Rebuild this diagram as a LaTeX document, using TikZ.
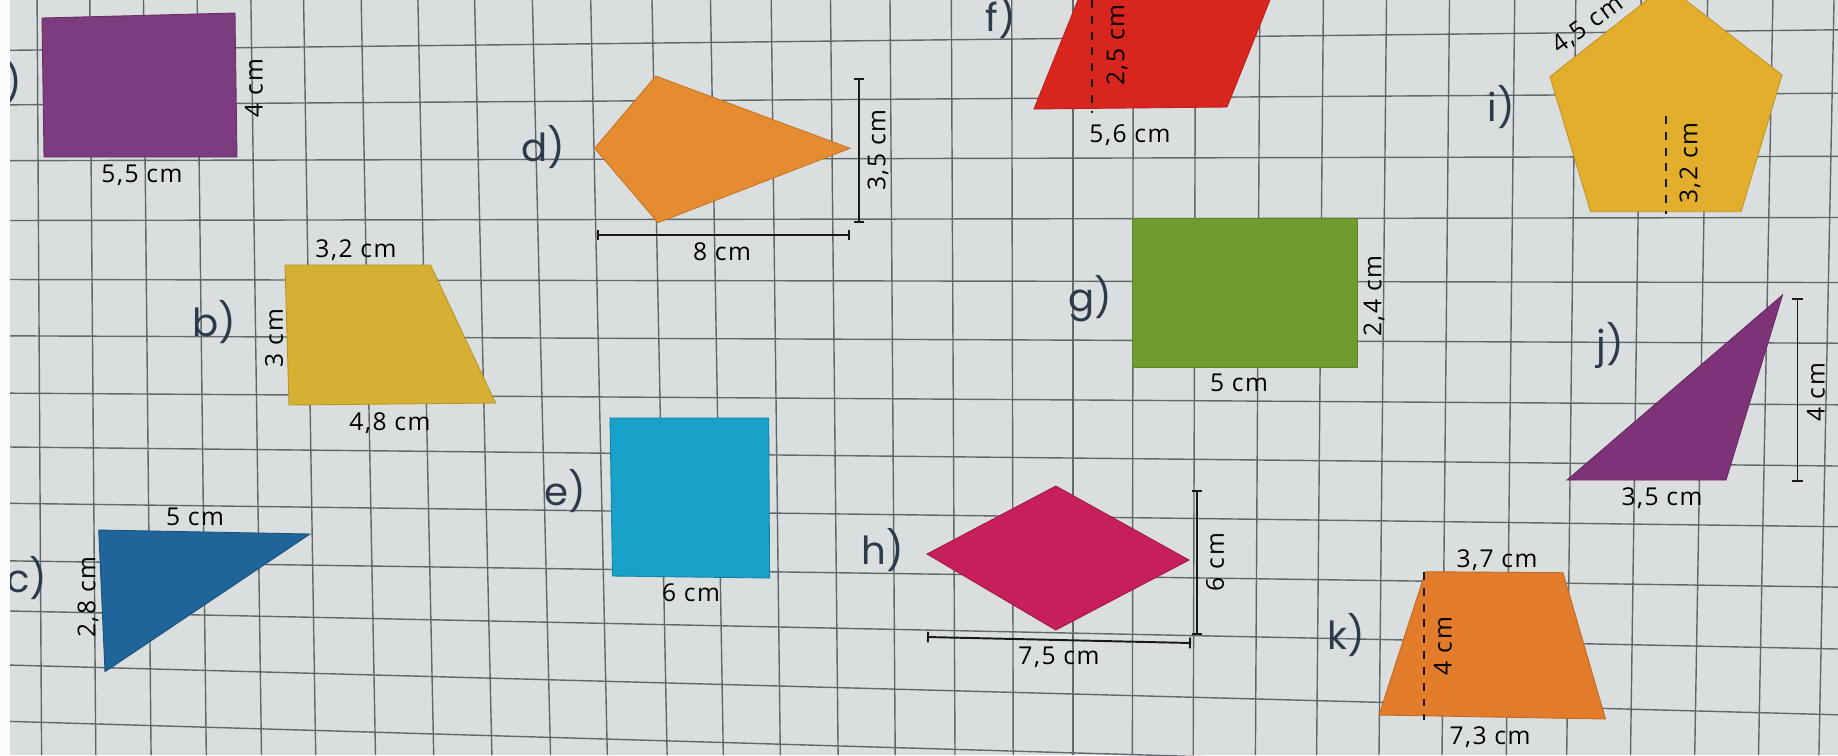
\documentclass[tikz,border=0pt]{standalone}
\usepackage{fontspec}
\newfontfamily\measfont[LetterSpace=6]{Open Sans}
\newfontfamily\handfont{Poppins}
\usetikzlibrary{arrows.meta}
\definecolor{paper}{HTML}{DADEDF}
\definecolor{gridc}{HTML}{62676B}
\definecolor{labc}{HTML}{2D3A4B}
\definecolor{cpurpleA}{HTML}{7D3C7E}
\definecolor{cyellowB}{HTML}{D6B032}
\definecolor{cblueC}{HTML}{20659A}
\definecolor{corangeD}{HTML}{E68C30}
\definecolor{ccyanE}{HTML}{18A2C9}
\definecolor{credF}{HTML}{D8261F}
\definecolor{cgreenG}{HTML}{6F9C2F}
\definecolor{cmagH}{HTML}{C71F5C}
\definecolor{cgoldI}{HTML}{E3AE2C}
\definecolor{cpurpleJ}{HTML}{7E3378}
\definecolor{corangeK}{HTML}{E27B2A}
\begin{document}
\begin{tikzpicture}[x=0.02cm,y=-0.02cm,
  gridline/.style={draw=gridc, line width=0.8pt},
  meas/.style={font=\measfont\fontsize{14}{16}\selectfont, text=black, inner sep=0pt},
  lab/.style={font=\handfont\fontsize{22}{24}\selectfont, text=labc, inner sep=0pt},
  figure/.style={line width=0.5pt},
  dimline/.style={line width=1.1pt, draw=black!90, {Bar[width=6pt]}-{Bar[width=6pt]}},
  hgt/.style={line width=1.1pt, draw=black!90, dash pattern=on 4.5pt off 4.5pt}]

\useasboundingbox (0,0) rectangle (1838,755);
\fill[paper] (0,0) rectangle (1838,755);

% grid: vertical lines
\foreach \a/\b in {37.1/41.6, 89.8/95.8, 143.5/151.1, 197.2/206.3, 250.9/261.5,
  303.6/315.7, 361.2/375.5, 417.9/433.7, 474.6/491.9, 532.4/550.5, 590.7/607.3,
  652/667.1, 710.5/723.3, 771.2/780.3, 830.5/838.1, 890/895.2, 951.3/955,
  1011.7/1013.2, 1073/1073, 1133.2/1132.4, 1195.5/1193.2, 1259.9/1255.4,
  1323.4/1316.6, 1386.5/1379, 1449.5/1442, 1514.7/1506.3, 1575.8/1566.7,
  1641.1/1630.5, 1707.6/1694.7, 1772.9/1758.5, 1834/1818.9}
  \draw[gridline] (\a,0) -- (\b,755);
% grid: horizontal lines
\foreach \a/\b in {50.4/29.8, 104.9/93.2, 160.7/156.3, 220.5/217.5, 279.5/282.5,
  335.8/343.2, 393.1/404.8, 446.9/466.0, 503.2/526.7, 560.7/587.1, 610.8/649.0,
  664.8/714.8, 721.1/775.5}
  \draw[gridline] (0,\a) -- (1838,\b);

% a) rectangle
\filldraw[figure, fill=cpurpleA, draw=cpurpleA!80!black] (42,18) -- (235,13) -- (237,157) -- (44,157) -- cycle;
\node[meas, rotate=90] (a4) at (254,88) {4 cm};
\node[meas] (a55) at (142,175) {5,5 cm};
\node[lab, anchor=east] (la) at (22,82) {a)};

% b) trapezoid
\filldraw[figure, fill=cyellowB, draw=cyellowB!85!black] (285,265) -- (430.5,265) -- (495.6,403) -- (289,405) -- cycle;
\node[meas] (b32) at (356,250) {3,2 cm};
\node[meas, rotate=90] (b3) at (274,338) {3 cm};
\node[meas] (b48) at (390,423) {4,8 cm};
\node[lab] (lb) at (214,322) {b)};

% c) triangle
\filldraw[figure, fill=cblueC, draw=cblueC!80!black] (98.7,530) -- (310,534) -- (105,671.7) -- cycle;
\node[meas] (c5) at (195,517) {5 cm};
\node[meas, rotate=90] (c28) at (88,597) {2,8 cm};
\node[lab] (lc) at (27,578) {c)};

% d) kite
\filldraw[figure, fill=corangeD, draw=corangeD!85!black] (594.6,148.3) -- (655.8,76) -- (850,148.3) -- (658,222.7) -- cycle;
\coordinate (d1) at (859,78); \coordinate (d2) at (859,223);
\draw[dimline] (d1) -- (d2);
\coordinate (d3) at (597,235); \coordinate (d4) at (850,235);
\draw[dimline] (d3) -- (d4);
\node[meas, rotate=90] (d35) at (878,150) {3,5 cm};
\node[meas] (d8) at (722,252) {8 cm};
\node[lab] (ld) at (543,147) {d)};

% e) rectangle
\filldraw[figure, fill=ccyanE, draw=ccyanE!80!black] (610,418) -- (768.7,418) -- (769.6,578) -- (612.5,576) -- cycle;
\node[meas] (e6) at (691,593) {6 cm};
\node[lab] (le) at (565,491) {e)};

% f) parallelogram
\filldraw[figure, fill=credF, draw=credF!85!black] (1034,109) -- (1227,107) -- (1282,-30) -- (1090,-30) -- cycle;
\coordinate (f1) at (1092,0); \coordinate (f2) at (1092,113);
\draw[hgt] (f1) -- (f2);
\node[meas, rotate=90, anchor=west] (f25) at (1117,86) {2,5 cm};
\node[meas] (f56) at (1130,135) {5,6 cm};
\node[lab] (lf) at (1001,17) {f)};

% g) rectangle
\filldraw[figure, fill=cgreenG, draw=cgreenG!85!black] (1132,218) -- (1357,218) -- (1357,367) -- (1132,367) -- cycle;
\node[meas, rotate=90] (g24) at (1374,296) {2,4 cm};
\node[meas] (g5) at (1239,383) {5 cm};
\node[lab] (lg) at (1090,299) {g)};

% h) rhombus
\filldraw[figure, fill=cmagH, draw=cmagH!80!black] (927,554) -- (1055.8,486) -- (1189,560) -- (1055.8,630) -- cycle;
\coordinate (h1) at (1197,490); \coordinate (h2) at (1197,635);
\draw[dimline] (h1) -- (h2);
\coordinate (h3) at (927,637); \coordinate (h4) at (1191,643);
\draw[dimline] (h3) -- (h4);
\node[meas, rotate=90] (h6) at (1215,562) {6 cm};
\node[meas] (h75) at (1059,657) {7,5 cm};
\node[lab] (lh) at (883,550) {h)};

% i) pentagon
\filldraw[figure, fill=cgoldI, draw=cgoldI!85!black] (1550,76.7) -- (1666,-15) -- (1782,75) -- (1741,211.7) -- (1590.6,211.7) -- cycle;
\coordinate (i1) at (1666,116); \coordinate (i2) at (1666,214);
\draw[hgt] (i1) -- (i2);
\node[meas, rotate=36, anchor=base west] (i45) at (1559,55) {4,5 cm};
\node[meas, rotate=90] (i32) at (1690,163) {3,2 cm};
\node[lab] (li) at (1501,107) {i)};

% j) triangle
\filldraw[figure, fill=cpurpleJ, draw=cpurpleJ!80!black] (1782.5,295) -- (1726,480) -- (1567,480) -- cycle;
\coordinate (j1) at (1797.5,298); \coordinate (j2) at (1797.5,482);
\draw[dimline] (j1) -- (j2);
\node[meas, rotate=90] (j4) at (1816,392) {4 cm};
\node[meas] (j35) at (1662,498) {3,5 cm};
\node[lab] (lj) at (1610,345) {j)};

% k) trapezoid
\filldraw[figure, fill=corangeK, draw=corangeK!85!black] (1425.5,571.7) -- (1563,572.7) -- (1605.5,719) -- (1379,715) -- cycle;
\coordinate (k1) at (1424.4,572); \coordinate (k2) at (1424.4,720);
\draw[hgt] (k1) -- (k2);
\node[meas, rotate=90] (k4) at (1443,646) {4 cm};
\node[meas] (k37) at (1497,560) {3,7 cm};
\node[meas] (k73) at (1490,737) {7,3 cm};
\node[lab] (lk) at (1346,635) {k)};

% light page margin at the left
\fill[white!92!paper] (0,0) rectangle (10,755);
\end{tikzpicture}
\end{document}
